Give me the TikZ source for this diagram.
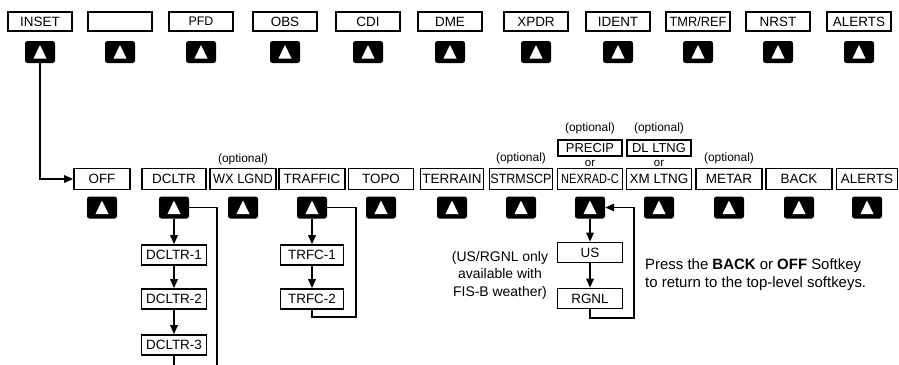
\documentclass[tikz,border=0pt]{standalone}
\usepackage{fontspec}
\setmainfont{Liberation Sans}
\usepackage{graphicx}
\usetikzlibrary{arrows.meta,positioning}
\tikzset{
  >={Triangle[length=9bp,width=7.5bp]},
  lbox/.style={draw, line width=1.6bp, minimum height=21bp, minimum width=64bp,
              inner sep=0pt, font=\fontsize{13.5}{14}\selectfont},
  tbox/.style={lbox, minimum height=19bp},
  sbox/.style={lbox, minimum height=20bp},
  obox/.style={lbox, minimum height=16bp, font=\fontsize{13}{13}\selectfont},
  kbtn/.style={fill=black, rounded corners=2.5bp, minimum width=30bp,
              minimum height=22bp, inner sep=0pt,
              path picture={\fill[white,sharp corners]
                ([xshift=-6.5bp,yshift=-6.5bp]path picture bounding box.center) --
                ([xshift=6.5bp,yshift=-6.5bp]path picture bounding box.center) --
                ([yshift=7bp]path picture bounding box.center) -- cycle;}},
  opt/.style={font=\fontsize{12}{13}\selectfont, inner sep=0pt},
  orlbl/.style={font=\fontsize{11.5}{11}\selectfont, inner sep=0pt},
  ann/.style={font=\fontsize{14}{17.5}\selectfont, inner sep=0pt},
  conn/.style={line width=1.5bp},
  flow/.style={->, line width=1.5bp},
}
\newcommand{\squeeze}[2]{\scalebox{#1}[1]{#2}}

\begin{document}
\begin{tikzpicture}[x=1bp,y=-1bp]
    \useasboundingbox (0,0) rectangle (899,364);
    % top-level softkeys
    \foreach \nm/\txt/\px in {inset/INSET/40, blank//120, pfd/{\fontsize{12.5}{12}\selectfont PFD}/201,
        obs/OBS/285, cdi/CDI/368, dme/DME/450, xpdr/XPDR/536, ident/IDENT/618,
        tmr/{\squeeze{0.95}{TMR/REF}}/698, nrst/NRST/778, alerts/ALERTS/859}{
      \node[tbox] (\nm) at (\px,21.5) {\txt};
      \node[kbtn] (k\nm) at (\px,52) {};
    }
    % inset softkeys
    \foreach \nm/\txt/\px/\w in {off/OFF/102/56, dcltr/DCLTR/174/64,
        wxlgnd/{\squeeze{0.95}{WX LGND}}/243/66, traffic/TRAFFIC/312/66, topo/TOPO/381/65,
        terrain/TERRAIN/452/63, strmscp/{\squeeze{0.93}{STRMSCP}}/521/63,
        nexrad/{\squeeze{0.82}{NEXRAD-C}}/590/65, xmltng/XM LTNG/659/65,
        metar/METAR/729/66, back/BACK/799/66, ialerts/ALERTS/867/61}{
      \node[lbox,minimum width=\w bp] (\nm) at (\px,179) {\txt};
      \node[kbtn] (k\nm) at (\px,207.5) {};
    }
    \node[opt] (optwx) at (243,159) {(optional)};
    \node[opt] (optstrm) at (521,158) {(optional)};
    \node[opt] (optmetar) at (729,158) {(optional)};
    \node[obox] (precip) at (590,148) {PRECIP};
    \node[obox] (dlltng) at (659,148) {DL LTNG};
    \node[orlbl] (or1) at (590,163) {or};
    \node[orlbl] (or2) at (659,163) {or};
    \node[opt] (optprecip) at (590,128) {(optional)};
    \node[opt] (optdl) at (659,128) {(optional)};
    \draw[flow] (kinset.south) |- (off.west);

    % declutter levels
    \node[sbox,minimum width=65bp] (dcltr1) at (174,255) {DCLTR-1};
    \node[sbox,minimum width=65bp] (dcltr2) at (174,299) {DCLTR-2};
    \node[sbox,minimum width=65bp] (dcltr3) at (174,345) {DCLTR-3};
    \coordinate (dend) at (174,366);
    \coordinate (dret) at (217,366);
    \draw[flow] (kdcltr.south) -- (dcltr1.north);
    \draw[flow] (dcltr1.south) -- (dcltr2.north);
    \draw[flow] (dcltr2.south) -- (dcltr3.north);
    \draw[conn] (dcltr3.south) -- (dend);
    \draw[conn] (kdcltr.east) -| (dret);

    % traffic
    \node[sbox,minimum width=63bp] (trfc1) at (312,255) {TRFC-1};
    \node[sbox,minimum width=63bp] (trfc2) at (312,299) {TRFC-2};
    \coordinate (tloop) at (356,317);
    \draw[flow] (ktraffic.south) -- (trfc1.north);
    \draw[flow] (trfc1.south) -- (trfc2.north);
    \draw[conn] (trfc2.south) |- (tloop) |- (ktraffic.east);

    % nexrad
    \node[sbox,minimum width=65bp] (us) at (590,252.5) {US};
    \node[sbox,minimum width=65bp] (rgnl) at (590,298.5) {RGNL};
    \coordinate (nloop) at (634,318);
    \draw[flow] (knexrad.south) -- (us.north);
    \draw[flow] (us.south) -- (rgnl.north);
    \draw[flow] (rgnl.south) |- (nloop) |- (knexrad.east);

    \node[ann,align=center] (fisnote) at (500,275)
      {(US/RGNL only\\available with\\FIS-B weather)};
    \node[ann,align=left,anchor=west,font=\fontsize{15}{17.5}\selectfont] (backnote) at (645,274.5)
      {Press the \textbf{BACK} or \textbf{OFF} Softkey\\to return to the top-level softkeys.};
\end{tikzpicture}
\end{document}
